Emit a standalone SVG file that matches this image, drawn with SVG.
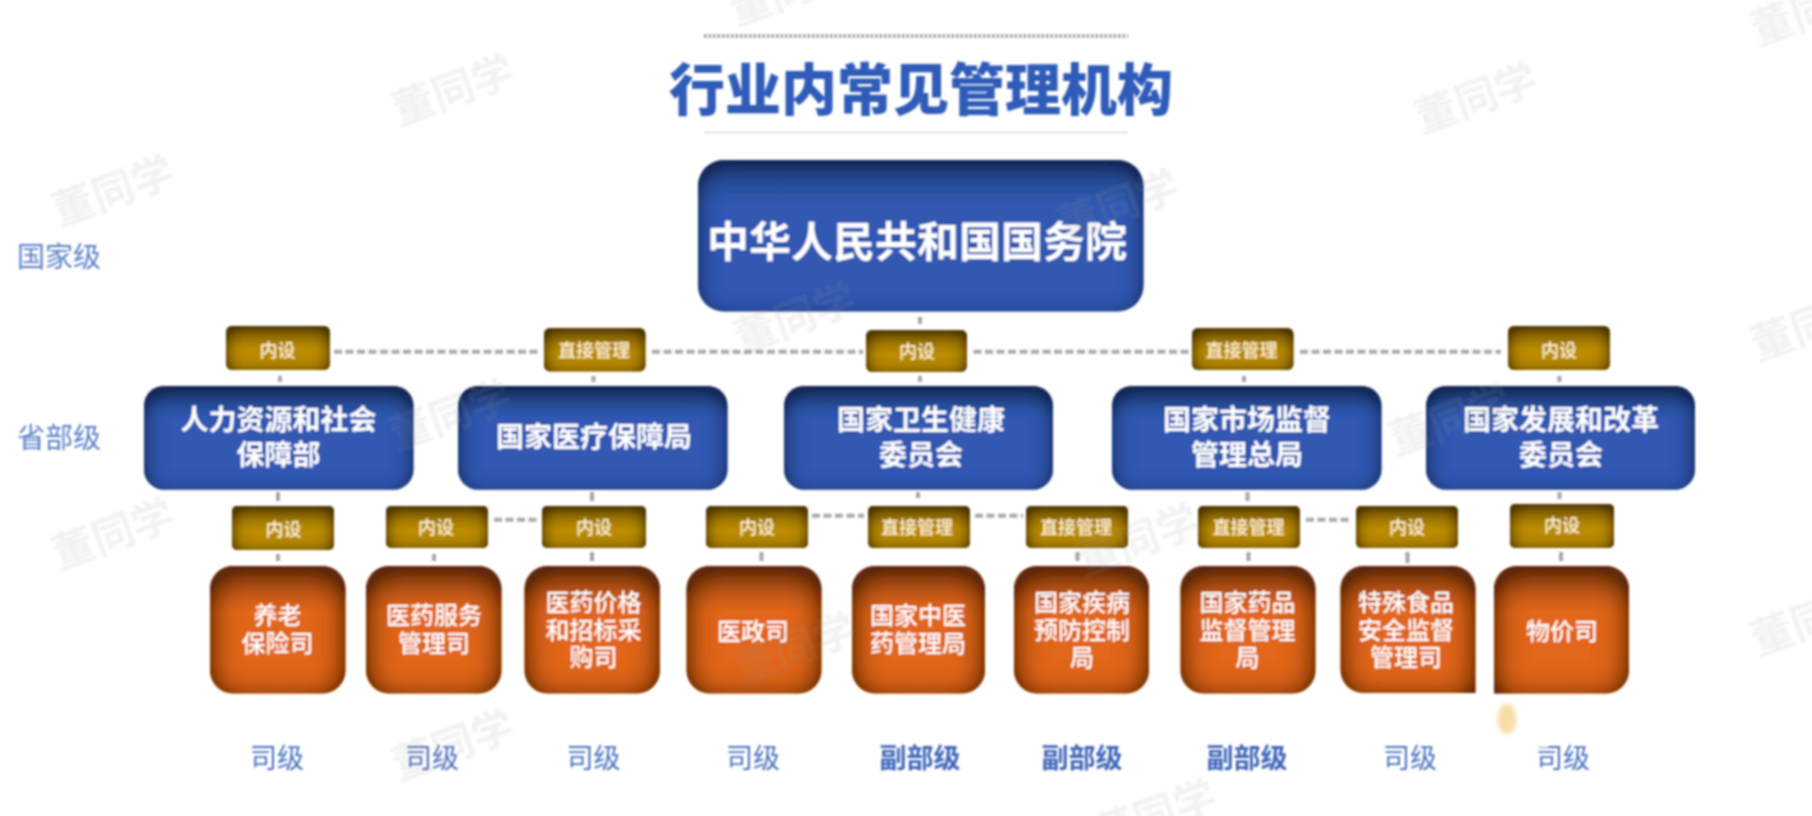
<svg xmlns="http://www.w3.org/2000/svg" width="1812" height="816" viewBox="0 0 1812 816">
<style>
text{font-family:"Noto Sans CJK SC","Noto Sans",sans-serif;text-anchor:middle}
.title{font-size:56px;font-weight:900;fill:#2f5bb8}
.big{font-size:42px;font-weight:700;fill:#fff}
.blue{font-size:28px;font-weight:700;fill:#fff}
.org{font-size:24px;font-weight:500;fill:#fff}
.gold{font-size:18px;font-weight:500;fill:#fff3d0}
.lvl{font-size:27px;fill:#4a70bf}
.lvlb{font-size:27px;font-weight:700;fill:#3f66b8}
.side{font-size:28px;fill:#5a7fc8}
.wm{font-size:42px;font-weight:700;fill:#999;opacity:.13}
.stub{stroke:#a6a6a6;stroke-width:4;fill:none}
.dash{stroke:#a9a9a9;stroke-width:4;stroke-dasharray:8 3.5;fill:none}
.dot{stroke:#a0a0a0;fill:none}
.bl{fill:url(#gb);filter:url(#inB)}
.or{fill:url(#go);filter:url(#inO)}
.gd{fill:url(#gg);filter:url(#inG)}
</style>
<defs>
<linearGradient id="gb" x1="0" y1="0" x2="0" y2="1"><stop offset="0" stop-color="#234584"/><stop offset=".3" stop-color="#3059b2"/></linearGradient>
<linearGradient id="go" x1="0" y1="0" x2="0" y2="1"><stop offset="0" stop-color="#a04a18"/><stop offset=".35" stop-color="#e2661f"/></linearGradient>
<linearGradient id="gg" x1="0" y1="0" x2="0" y2="1"><stop offset="0" stop-color="#8f6a00"/><stop offset=".55" stop-color="#bc8d00"/></linearGradient>
<filter id="inB" x="-5%" y="-5%" width="110%" height="110%"><feGaussianBlur in="SourceAlpha" stdDeviation="11"/><feOffset dy="6"/><feComposite in="SourceAlpha" operator="out" result="o"/><feComponentTransfer in="o" result="o2"><feFuncA type="linear" slope="1.5"/></feComponentTransfer><feFlood flood-color="#14234d" flood-opacity=".9"/><feComposite in2="o2" operator="in" result="s"/><feMerge><feMergeNode in="SourceGraphic"/><feMergeNode in="s"/></feMerge></filter>
<filter id="inO" x="-5%" y="-5%" width="110%" height="110%"><feGaussianBlur in="SourceAlpha" stdDeviation="16"/><feOffset dy="6"/><feComposite in="SourceAlpha" operator="out" result="o"/><feComponentTransfer in="o" result="o2"><feFuncA type="linear" slope="1.7"/></feComponentTransfer><feFlood flood-color="#5a2608" flood-opacity=".95"/><feComposite in2="o2" operator="in" result="s"/><feMerge><feMergeNode in="SourceGraphic"/><feMergeNode in="s"/></feMerge></filter>
<filter id="inG" x="-5%" y="-5%" width="110%" height="110%"><feGaussianBlur in="SourceAlpha" stdDeviation="9"/><feOffset dy="3"/><feComposite in="SourceAlpha" operator="out" result="o"/><feComponentTransfer in="o" result="o2"><feFuncA type="linear" slope="1.6"/></feComponentTransfer><feFlood flood-color="#4a3300" flood-opacity=".95"/><feComposite in2="o2" operator="in" result="s"/><feMerge><feMergeNode in="SourceGraphic"/><feMergeNode in="s"/></feMerge></filter>
<filter id="softer"><feGaussianBlur stdDeviation="2.200"/></filter>
<filter id="img" x="0" y="0" width="100%" height="100%"><feGaussianBlur stdDeviation=".9"/></filter>
</defs>
<rect width="1812" height="816" fill="#fff"/>
<g filter="url(#img)">
<g id="title">
<line class="dot" x1="704" y1="36" x2="1128" y2="36" stroke-width="4" stroke-dasharray="2.5 2"/>
<line class="dot" x1="705" y1="132.5" x2="1128" y2="132.5" stroke-width="1.5" stroke-dasharray="2 1.5" opacity=".7"/>
<text class="title" x="921" y="110">行业内常见管理机构</text>
</g>
<g id="side-labels">
<text class="side" x="59" y="267">国家级</text>
<text class="side" x="59" y="448">省部级</text>
</g>
<g id="connectors">
<path class="stub" d="M920 317V324M280 376V382M593.5 376V382M920 376V382M1244 376V382M1559.5 376V382"/>
<path class="stub" d="M278 492V501M592 492V501M918 492V498M1247.5 492V501M1559.5 492V499"/>
<path class="stub" d="M278 554V561M434 554V561M592 552V561M761.5 552V561M1077.5 552V561M1248.5 552V561M1407.5 552V563M1561 552V561"/>
<path class="dash" d="M334 351.7H540M652 351.7H863M973.5 351.7H1189M1300 351.7H1501"/>
<path class="dash" d="M494 519.7H538.5M812 515.7H864M975 515.7H1023M1306 519.7H1352"/>
</g>
<g id="state-council"><rect class="bl" x="698" y="160" width="445.500" height="151.500" rx="26"/><text class="big" x="917" y="257">中华人民共和国国务院</text></g>
<g id="g1-1"><rect class="gd" x="226" y="326" width="104" height="44" rx="6"/><text class="gold" x="277.500" y="356.500">内设</text></g>
<g id="g1-2"><rect class="gd" x="544" y="328" width="101.500" height="43.500" rx="6"/><text class="gold" x="594" y="356.500">直接管理</text></g>
<g id="g1-3"><rect class="gd" x="866" y="330" width="101" height="42" rx="6"/><text class="gold" x="917" y="357.500">内设</text></g>
<g id="g1-4"><rect class="gd" x="1192" y="328" width="101.500" height="42" rx="6"/><text class="gold" x="1241.500" y="356.500">直接管理</text></g>
<g id="g1-5"><rect class="gd" x="1508" y="326" width="102" height="44" rx="6"/><text class="gold" x="1559" y="356.500">内设</text></g>
<g id="b1"><rect class="bl" x="144" y="386" width="269.500" height="103.700" rx="20"/><text class="blue" x="278.500" y="430">人力资源和社会</text><text class="blue" x="278.500" y="465">保障部</text></g>
<g id="b2"><rect class="bl" x="458" y="386" width="269.500" height="103.700" rx="20"/><text class="blue" x="594" y="447">国家医疗保障局</text></g>
<g id="b3"><rect class="bl" x="784" y="386" width="269" height="103.700" rx="20"/><text class="blue" x="921" y="430">国家卫生健康</text><text class="blue" x="921" y="465">委员会</text></g>
<g id="b4"><rect class="bl" x="1112" y="386" width="269.500" height="103.700" rx="20"/><text class="blue" x="1247" y="430">国家市场监督</text><text class="blue" x="1247" y="465">管理总局</text></g>
<g id="b5"><rect class="bl" x="1426" y="386" width="269" height="103.700" rx="20"/><text class="blue" x="1561" y="430">国家发展和改革</text><text class="blue" x="1561" y="465">委员会</text></g>
<g id="g2-1"><rect class="gd" x="232" y="506" width="102" height="44" rx="5"/><text class="gold" x="283.500" y="536">内设</text></g>
<g id="g2-2"><rect class="gd" x="386" y="506" width="102" height="42" rx="5"/><text class="gold" x="436" y="533.500">内设</text></g>
<g id="g2-3"><rect class="gd" x="542" y="506" width="104" height="42" rx="5"/><text class="gold" x="594" y="533.500">内设</text></g>
<g id="g2-4"><rect class="gd" x="706" y="506" width="102" height="42" rx="5"/><text class="gold" x="757" y="533.500">内设</text></g>
<g id="g2-5"><rect class="gd" x="868" y="506" width="102" height="42" rx="5"/><text class="gold" x="917" y="533.500">直接管理</text></g>
<g id="g2-6"><rect class="gd" x="1026" y="506" width="102" height="42" rx="5"/><text class="gold" x="1076" y="533.500">直接管理</text></g>
<g id="g2-7"><rect class="gd" x="1198" y="506" width="102" height="42" rx="5"/><text class="gold" x="1248.500" y="533.500">直接管理</text></g>
<g id="g2-8"><rect class="gd" x="1356" y="506" width="102" height="42" rx="5"/><text class="gold" x="1407" y="533.500">内设</text></g>
<g id="g2-9"><rect class="gd" x="1510" y="504" width="104" height="44" rx="5"/><text class="gold" x="1562" y="531.500">内设</text></g>
<g id="o1"><rect class="or" x="210" y="566" width="135.500" height="127.500" rx="23"/><text class="org" x="277.500" y="624">养老</text><text class="org" x="277.500" y="652">保险司</text></g>
<g id="o2"><rect class="or" x="366" y="566" width="135.500" height="127.500" rx="23"/><text class="org" x="434" y="624">医药服务</text><text class="org" x="434" y="652">管理司</text></g>
<g id="o3"><rect class="or" x="524.500" y="566" width="135.500" height="127.500" rx="23"/><text class="org" x="593.500" y="611">医药价格</text><text class="org" x="593.500" y="639">和招标采</text><text class="org" x="593.500" y="666">购司</text></g>
<g id="o4"><rect class="or" x="686.500" y="566" width="135" height="127.500" rx="23"/><text class="org" x="753" y="640">医政司</text></g>
<g id="o5"><rect class="or" x="852" y="566" width="133" height="127.500" rx="23"/><text class="org" x="918" y="624">国家中医</text><text class="org" x="918" y="652">药管理局</text></g>
<g id="o6"><rect class="or" x="1014" y="566" width="135" height="127.500" rx="23"/><text class="org" x="1082" y="611">国家疾病</text><text class="org" x="1082" y="639">预防控制</text><text class="org" x="1082" y="666">局</text></g>
<g id="o7"><rect class="or" x="1180.500" y="566" width="135" height="127.500" rx="23"/><text class="org" x="1247.500" y="611">国家药品</text><text class="org" x="1247.500" y="639">监督管理</text><text class="org" x="1247.500" y="666">局</text></g>
<g id="o8"><path class="or" d="M1363.500 566H1452.500A23 23 0 0 1 1475.500 589V693H1363.500A23 23 0 0 1 1340.500 670V589A23 23 0 0 1 1363.500 566Z"/><text class="org" x="1406" y="611">特殊食品</text><text class="org" x="1406" y="639">安全监督</text><text class="org" x="1406" y="666">管理司</text></g>
<g id="o9"><path class="or" d="M1517 566H1606A23 23 0 0 1 1629 589V670.500A23 23 0 0 1 1606 693.500H1494V589A23 23 0 0 1 1517 566Z"/><text class="org" x="1562" y="640">物价司</text></g>
<g id="levels">
<text class="lvl" x="277" y="768">司级</text>
<text class="lvl" x="432" y="768">司级</text>
<text class="lvl" x="593.500" y="768">司级</text>
<text class="lvl" x="753" y="768">司级</text>
<text class="lvlb" x="920" y="768">副部级</text>
<text class="lvlb" x="1082" y="768">副部级</text>
<text class="lvlb" x="1247" y="768">副部级</text>
<text class="lvl" x="1410" y="768">司级</text>
<text class="lvl" x="1563" y="768">司级</text>
</g>
<g id="retouch">
<rect x="1533" y="739" width="15" height="8" fill="#fff"/>
<ellipse cx="1507" cy="719" rx="9.500" ry="15" fill="#f7dca6" filter="url(#softer)"/>
</g>
<g id="watermarks">
<text class="wm" transform="rotate(-20 453 90)" x="453" y="105">董同学</text>
<text class="wm" transform="rotate(-20 113 191)" x="113" y="206">董同学</text>
<text class="wm" transform="rotate(-20 1476 98)" x="1476" y="113">董同学</text>
<text class="wm" transform="rotate(-20 1118 205)" x="1118" y="220">董同学</text>
<text class="wm" transform="rotate(-20 795 318)" x="795" y="333">董同学</text>
<text class="wm" transform="rotate(-20 113 534)" x="113" y="549">董同学</text>
<text class="wm" transform="rotate(-20 453 745)" x="453" y="760">董同学</text>
<text class="wm" transform="rotate(-20 450 415)" x="450" y="430">董同学</text>
<text class="wm" transform="rotate(-20 795 648)" x="795" y="663">董同学</text>
<text class="wm" transform="rotate(-20 1138 540)" x="1138" y="555">董同学</text>
<text class="wm" transform="rotate(-20 1450 420)" x="1450" y="435">董同学</text>
<text class="wm" transform="rotate(-20 1812 325)" x="1812" y="340">董同学</text>
<text class="wm" transform="rotate(-20 1812 620)" x="1812" y="635">董同学</text>
<text class="wm" transform="rotate(-20 1812 10)" x="1812" y="25">董同学</text>
<text class="wm" transform="rotate(-20 790 -10)" x="790" y="5">董同学</text>
<text class="wm" transform="rotate(-20 1155 815)" x="1155" y="830">董同学</text>
</g>
</g>
</svg>
